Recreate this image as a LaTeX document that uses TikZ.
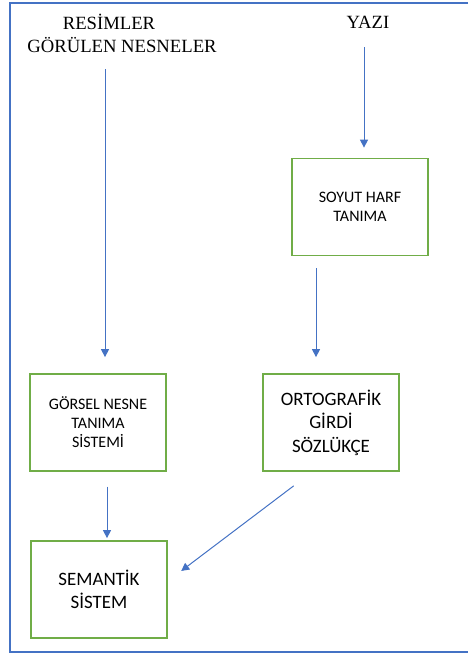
\documentclass[tikz,border=0pt]{standalone}
\usepackage{fontspec}
\usepackage{xcolor}
\usepackage{tikz}
\usetikzlibrary{arrows.meta}
\setmainfont{Liberation Serif}
\newfontfamily\boxfont{Carlito}
\definecolor{frameblue}{HTML}{4472C4}
\definecolor{boxgreen}{HTML}{70AD47}

\begin{document}
\begin{tikzpicture}[x=0.75pt,y=0.75pt,yscale=-1,xscale=1,
  modul/.style={draw=boxgreen,line width=1.3pt,minimum width=102pt,minimum height=72.75pt,align=center,inner sep=0pt},
  small/.style={font=\boxfont\fontsize{12}{14.3}\selectfont},
  large/.style={font=\boxfont\fontsize{14.2}{17.6}\selectfont},
  baslik/.style={font=\fontsize{14}{17}\selectfont,inner sep=0pt},
  akis/.style={draw=frameblue,line width=0.75pt,-{Triangle[width=6pt,length=6pt]}}]
\useasboundingbox (0,0) rectangle (468,653);

%Shape: Frame
\draw [frameblue,line width=1.2pt] (468,3) -- (10,3) -- (10,652) -- (468,652);

% Text Node
\node [baslik] (resimler) at (109,22) {RES\.IMLER};
% Text Node
\node [baslik] (gorulen) at (122,45) {GÖRÜLEN NESNELER};
% Text Node
\node [baslik] (yazi) at (368,22) {YAZI};

%Shape: Rectangle
\node [modul,small] (soyut) at (360,207) {SOYUT HARF\\TANIMA};
%Shape: Rectangle
\node [modul,small] (gorsel) at (98,422.5) {GÖRSEL NESNE\\TANIMA\\S\.ISTEM\.I};
%Shape: Rectangle
\node [modul,large] (orto) at (331,422.5) {ORTOGRAF\.IK\\G\.IRD\.I\\SÖZLÜKÇE};
%Shape: Rectangle
\node [modul,large] (semantik) at (99,589.5) {SEMANT\.IK\\S\.ISTEM};

\coordinate (resimlerout) at (105,69);
\coordinate (yaziout) at (364,47);

%Straight Lines
\draw [akis] (resimlerout) -- ([yshift=-12pt]resimlerout |- gorsel.north);
\draw [akis] (yaziout) -- ([yshift=-7.5pt]yaziout |- soyut.north);
\draw [akis] ([yshift=9pt]soyut.south -| 316,0) -- ([yshift=-12pt]orto.north -| 316,0);
\draw [akis] ([yshift=11pt]gorsel.south -| 107,0) -- ([yshift=-1.5pt]semantik.north -| 107,0);
\draw [akis] ([xshift=-28pt,yshift=10.5pt]orto.south) -- ([xshift=10pt,yshift=-13.9pt]semantik.east);

\end{tikzpicture}
\end{document}
